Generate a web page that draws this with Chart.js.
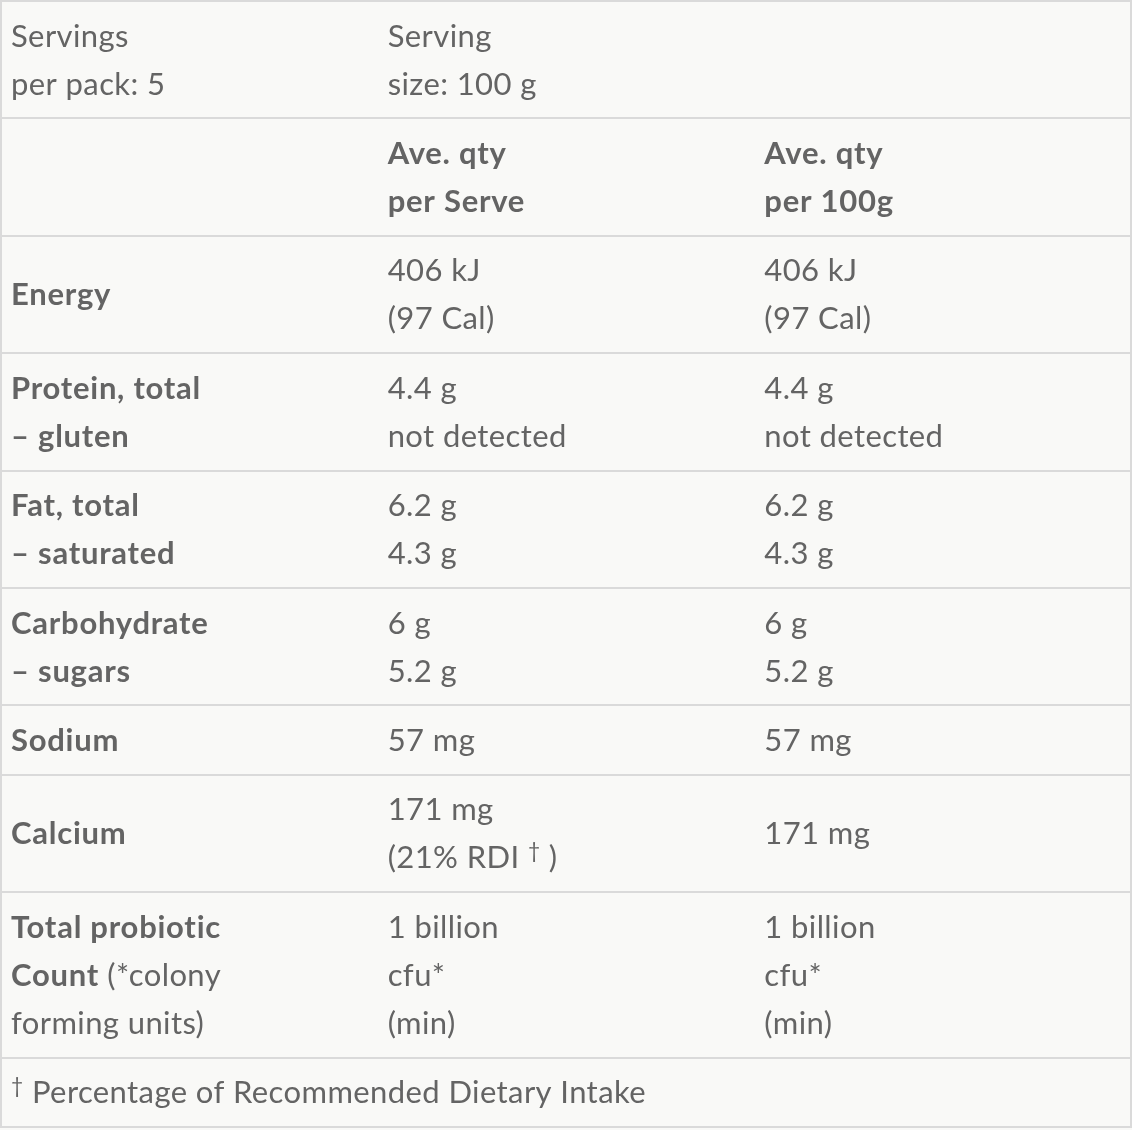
<!DOCTYPE html>
<html><head><meta charset="utf-8">
<script src="https://cdn.jsdelivr.net/npm/chart.js@4.4.1/dist/chart.umd.min.js"></script>
<style>
html,body{margin:0;padding:0;background:#f9f9f7;}
#wrap{width:1132px;height:1130px;position:relative;}
</style>
</head><body><div id="wrap"><canvas id="c"></canvas></div>
<script>
// ---- Data (markup: **bold**, ^{superscript}) ----
const servingInfo = ["Servings\nper pack: 5", "Serving\nsize: 100 g", ""];
const columnHeaders = ["", "**Ave. qty\nper Serve**", "**Ave. qty\nper 100g**"];
const nutrients = [
  "**Energy**",
  "**Protein, total\n– gluten**",
  "**Fat, total\n– saturated**",
  "**Carbohydrate\n– sugars**",
  "**Sodium**",
  "**Calcium**",
  "**Total probiotic\nCount** (*colony\nforming units)"
];
const perServe = [
  "406 kJ\n(97 Cal)",
  "4.4 g\nnot detected",
  "6.2 g\n4.3 g",
  "6 g\n5.2 g",
  "57 mg",
  "171 mg\n(21% RDI ^{†} )",
  "1 billion\ncfu*\n(min)"
];
const per100g = [
  "406 kJ\n(97 Cal)",
  "4.4 g\nnot detected",
  "6.2 g\n4.3 g",
  "6 g\n5.2 g",
  "57 mg",
  "171 mg",
  "1 billion\ncfu*\n(min)"
];
const footnote = "^{†} Percentage of Recommended Dietary Intake";

// ---- Style ----
const FONT = "Lato";
const FONT_SIZE = 31;
const SUP_SIZE = 21;
const SUP_RAISE = 10;
const SPACING_REG = 0.4;
const SPACING_BOLD = 0.75;
const LINE_PX = 48;
const GAP_LINES = 0.4458;
const TEXT_COLOR = "#646464";
const BORDER_COLOR = "#dadada";
const BORDER_W = 2;
const PAD_X = 10;
const BASELINE_IN_LINE = 35;

// ---- Build table structure ----
const rows = [];
rows.push({ cells: servingInfo });
rows.push({ cells: columnHeaders });
nutrients.forEach((n, i) => rows.push({ cells: [n, perServe[i], per100g[i]] }));
rows.push({ cells: [footnote], span: true });

let acc = 0;
const rowTops = [];
rows.forEach(r => {
  r.lines = Math.max(...r.cells.map(c => c ? c.split("\n").length : 0));
  rowTops.push(acc);
  r.top = acc;
  acc += r.lines + GAP_LINES;
});
const totalUnits = acc;
const boundaries = rowTops.concat([totalUnits]);

const cellPoints = [];
rows.forEach(r => {
  r.cells.forEach((c, ci) => {
    if (!c) return;
    const n = c.split("\n").length;
    cellPoints.push({ x: ci, y: r.top + GAP_LINES / 2 + (r.lines - n) / 2, text: c });
  });
});

function parseLine(line) {
  const segs = [];
  let bold = false, buf = "", i = 0;
  const flush = () => { if (buf) { segs.push({ t: buf, bold, sup: false }); buf = ""; } };
  while (i < line.length) {
    if (line.startsWith("**", i)) { flush(); bold = !bold; i += 2; }
    else if (line.startsWith("^{", i)) {
      flush();
      const j = line.indexOf("}", i);
      segs.push({ t: line.slice(i + 2, j), bold, sup: true });
      i = j + 1;
    } else { buf += line[i]; i++; }
  }
  flush();
  return segs;
}

function splitWithBold(text) {
  const out = [];
  let bold = false;
  text.split("\n").forEach(line => {
    out.push(parseLine((bold ? "**" : "") + line));
    const cnt = (line.match(/\*\*/g) || []).length;
    if (cnt % 2 === 1) bold = !bold;
  });
  return out;
}

function drawSpaced(ctx, t, x, y, sp) {
  if ("letterSpacing" in ctx) {
    ctx.letterSpacing = sp + "px";
    ctx.fillText(t, x, y);
    const w = ctx.measureText(t).width;
    ctx.letterSpacing = "0px";
    return w;
  }
  let cx = x;
  for (const ch of t) {
    ctx.fillText(ch, cx, y);
    cx += ctx.measureText(ch).width + sp;
  }
  return cx - x;
}

const tablePlugin = {
  id: "tablePlugin",
  afterDatasetsDraw(chart) {
    const ctx = chart.ctx;
    const xs = chart.scales.x, ys = chart.scales.y;
    ctx.save();
    ctx.fillStyle = BORDER_COLOR;
    boundaries.forEach(b => {
      const y = ys.getPixelForValue(b);
      ctx.fillRect(0, Math.round(y - BORDER_W / 2), chart.width, BORDER_W);
    });
    const yTop = ys.getPixelForValue(0), yBot = ys.getPixelForValue(totalUnits);
    [xs.getPixelForValue(0), xs.getPixelForValue(3)].forEach(x => {
      ctx.fillRect(Math.round(x - BORDER_W / 2), yTop, BORDER_W, yBot - yTop);
    });
    ctx.fillStyle = TEXT_COLOR;
    ctx.textBaseline = "alphabetic";
    ctx.textAlign = "left";
    const meta = chart.getDatasetMeta(0);
    meta.data.forEach((pt, i) => {
      const cell = cellPoints[i];
      splitWithBold(cell.text).forEach((segs, li) => {
        let x = pt.x + PAD_X;
        const base = pt.y + li * LINE_PX + BASELINE_IN_LINE;
        segs.forEach(s => {
          const size = s.sup ? SUP_SIZE : FONT_SIZE;
          ctx.font = (s.bold ? "bold " : "") + size + "px " + FONT;
          x += drawSpaced(ctx, s.t, x, base - (s.sup ? SUP_RAISE : 0), s.bold ? SPACING_BOLD : SPACING_REG);
        });
      });
    });
    ctx.restore();
  }
};

function build() {
  new Chart(document.getElementById("c"), {
    type: "scatter",
    data: {
      datasets: [{
        data: cellPoints.map(p => ({ x: p.x, y: p.y })),
        pointRadius: 0,
        pointHoverRadius: 0
      }]
    },
    options: {
      responsive: true,
      maintainAspectRatio: false,
      animation: false,
      events: [],
      layout: { padding: { top: 1, bottom: 3, left: 1, right: 1 } },
      plugins: { legend: { display: false }, tooltip: { enabled: false } },
      scales: {
        x: { type: "linear", min: 0, max: 3, display: false },
        y: { type: "linear", min: 0, max: totalUnits, reverse: true, display: false }
      }
    },
    plugins: [tablePlugin]
  });
}

Promise.all([
  document.fonts.load("31px Lato"),
  document.fonts.load("bold 31px Lato")
]).then(build, build);
</script>
</body></html>
